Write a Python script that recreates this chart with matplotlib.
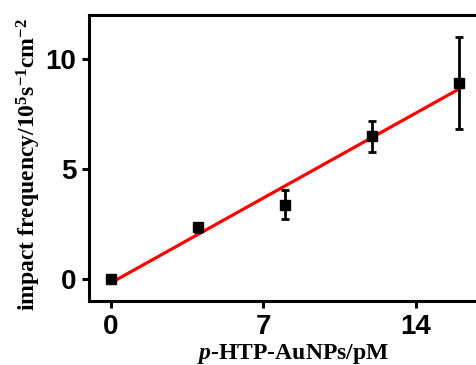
import matplotlib
matplotlib.use("Agg")
import matplotlib.pyplot as plt

conc = [0, 4, 8, 12, 16]
freq = [0.0, 2.35, 3.38, 6.48, 8.9]
err = [0.08, 0.2, 0.67, 0.72, 2.1]
fit_x = [0, 16]
fit_y = [-0.18, 8.64]
xticks = [0, 7, 14]
yticks = [0, 5, 10]

plt.rcParams['mathtext.fontset'] = 'custom'
plt.rcParams['mathtext.rm'] = 'Liberation Serif:bold'
plt.rcParams['mathtext.it'] = 'Liberation Serif:bold:italic'
plt.rcParams['mathtext.bf'] = 'Liberation Serif:bold'

fig = plt.figure(figsize=(4.76, 3.65), dpi=100)
W, H = 476, 365
left, right, top, bottom = 89, 481, 15, 301
ax = fig.add_axes([left / W, 1 - bottom / H, (right - left) / W, (bottom - top) / H])

ax.plot(fit_x, fit_y, color='#ff0000', lw=2.3, zorder=3)
ax.errorbar(conc, freq, yerr=err, fmt='s', color='black', ms=7.5, elinewidth=2,
            capsize=3, capthick=2, zorder=4)

ax.set_xlim(-1, 17)
ax.set_ylim(-1, 12)
ax.set_xticks(xticks)
ax.set_yticks(yticks)
for s in ax.spines.values():
    s.set_linewidth(2.2)
ax.tick_params(direction='out', length=5, width=2.2, pad=4)
for lab in ax.get_xticklabels() + ax.get_yticklabels():
    lab.set_fontfamily('Liberation Sans')
    lab.set_fontweight('bold')
    lab.set_fontsize(20)

ax.set_xlabel(r'$\it{p}$-HTP-AuNPs/pM', fontfamily='Liberation Serif',
              fontweight='bold', fontsize=17)
ax.set_ylabel(r'impact frequency/10$^{5}$s$^{-1}$cm$^{-2}$', fontfamily='Liberation Serif',
              fontweight='bold', fontsize=17)
ax.xaxis.set_label_coords(0.52, -0.142)
ax.yaxis.set_label_coords(-0.117, 0.4755)

fig.savefig('out.png', dpi=100)
